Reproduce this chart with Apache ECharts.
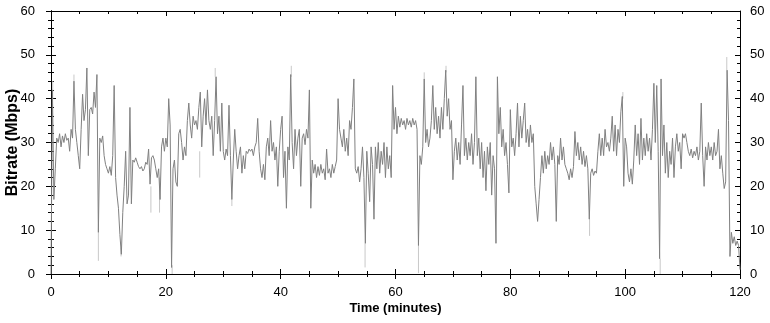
<!DOCTYPE html>
<html>
<head>
<meta charset="utf-8">
<title>Bitrate</title>
<script src="https://cdn.jsdelivr.net/npm/echarts@6/dist/echarts.min.js"></script>
<style>
  html, body { margin: 0; padding: 0; background: #fff; }
  #chart { width: 770px; height: 323px; }
</style>
</head>
<body>
<div id="chart"></div>
<script>
// bitrate (Mbps) every quarter minute, 0 .. 120 min (one row = 5 minutes)
const bitrate = [
  0, 42, 17, 24, 31, 30, 32, 29, 31.5, 30, 32, 30.5, 31, 28, 33, 31, 44, 33, 30, 27,
  24, 33, 41, 35, 37.5, 47, 27, 37.5, 38, 36.5, 41.5, 38, 45.5, 9.5, 31, 30, 31.5, 27, 25, 24,
  23, 24.5, 22.5, 27, 43, 22, 18, 15, 9, 4.5, 14, 20, 28, 16, 18, 38, 16, 26, 25.5, 26.5,
  25.5, 24.5, 24, 24.5, 23.5, 24, 25.5, 25, 28.5, 20.5, 26.5, 27, 26, 24, 22, 24, 17, 29, 31, 28,
  31, 29, 40, 34, 1.5, 24, 26, 21, 20, 32, 33, 30, 26, 29, 27, 35, 39, 34, 31, 36,
  34, 35, 33, 38, 41.5, 29, 36, 40, 34, 42, 35, 33, 36, 27, 35, 45, 32, 36, 28, 39,
  28, 26, 28.5, 27, 38.5, 27, 17, 26, 33, 28, 24, 27, 29, 23, 27, 24, 28, 27.5, 28.5, 28,
  28.5, 27, 29, 30, 35.5, 28, 24, 22, 25, 21.5, 29, 31, 27, 35, 28, 30, 26, 29, 20, 28,
  33, 36, 22, 28, 15, 29, 26, 45.5, 30, 24, 33, 27, 31, 33, 20, 31, 32, 29.5, 33, 31,
  42, 15, 26, 23, 25, 22, 24.5, 22.5, 25, 23, 24, 21.5, 28.5, 23, 24, 22, 25, 23, 24.5, 26,
  40, 33, 31, 29, 33, 28, 31, 27, 35, 33, 38, 44.5, 24, 23, 24.5, 21, 24, 29, 22, 7,
  28, 23, 16.5, 29, 25, 12.5, 29, 24, 30, 23, 28, 25, 30, 22, 29, 24, 27, 22, 43, 33,
  38, 32, 36, 33.5, 35.5, 34, 35, 33, 35.5, 34, 35, 33.5, 35.5, 34, 35, 33, 6.5, 27, 25, 29,
  44.5, 30, 33, 29, 31, 35, 43, 33, 38, 32, 36, 31, 38, 33, 40, 46.5, 36, 40, 33, 35,
  21.5, 28, 31, 26, 30, 25, 34, 43, 27, 31, 26, 30, 27, 32, 25, 30, 45, 27, 31, 24,
  30, 22, 28, 19, 29, 25, 30, 18, 27, 24, 7, 45, 32, 38, 29, 33, 27, 30, 25, 18.5,
  37.5, 29, 31, 27, 32, 39, 29, 36, 31, 35, 39, 30, 33, 29, 34, 30, 32, 20, 16, 12,
  17, 22, 27, 23, 28, 24, 27, 25, 30, 26, 29, 25, 12, 27, 25, 31, 26, 29, 25, 24,
  23, 21.5, 24, 22, 24.5, 32.5, 27, 30, 26, 29, 25, 28, 24.5, 27, 24, 12.5, 23, 24, 22.5, 23.5,
  23, 28, 32, 27, 31, 27, 33, 29, 30, 28, 31, 36, 28, 34, 27, 33, 30, 37, 40.5, 20,
  31, 29, 23, 21, 24, 20.5, 26, 34, 27, 32, 25, 35.5, 26, 31, 27, 32, 28, 31, 26, 33,
  43.5, 30, 43, 28, 3.5, 44.5, 27, 34, 23, 30, 22, 28, 25, 31, 22, 29, 32, 28, 30, 24,
  32, 31, 32, 30, 28, 27, 28.5, 26.5, 28, 27, 29, 26, 28, 39, 27, 20, 29, 26, 30, 27,
  29, 26, 30, 27, 28, 33, 24, 27, 23, 19.5, 21, 46.5, 35, 4, 9.5, 7, 8.5, 6.5, 7.5, 6.5,
  1
];
const stepMinutes = 0.25;

// light grey peaks of the raw trace: [minute, low, high]
const peaks = [
  [0.3, 40, 44], [4.0, 44, 45.5], [8.25, 3, 9.5], [12.2, 4, 6],
  [17.4, 14, 20], [18.9, 14, 22], [21.1, 0, 2], [25.9, 22, 28],
  [28.6, 45, 47], [31.5, 15.5, 17], [41.85, 45, 47.5], [54.7, 1.5, 7],
  [64.0, 0.2, 6.5], [65.0, 44.5, 46], [68.8, 46, 47.5], [93.8, 8.7, 12.5],
  [99.6, 40, 41.5], [106.1, 0, 3.5], [117.7, 46.5, 49.5]
];

const xTicks = [0, 20, 40, 60, 80, 100, 120];
const yTicks = [0, 10, 20, 30, 40, 50, 60];

const chart = echarts.init(document.getElementById("chart"), null, { renderer: "canvas" });

const font = "'Liberation Sans', Arial, sans-serif";
const black = "#000";

function xAxisDef(position, inside, labels) {
  return {
    type: "value",
    position: position,
    min: xTicks[0],
    max: xTicks[xTicks.length - 1],
    interval: 20,
    axisLine: { show: true, onZero: false, lineStyle: { color: black, width: 1 } },
    axisTick: { show: true, inside: inside, length: 5, lineStyle: { color: black } },
    minorTick: { show: true, splitNumber: 4, length: 3, lineStyle: { color: black } },
    splitLine: { show: false },
    axisLabel: { show: labels, color: black, fontFamily: font, fontSize: 13, margin: 12 },
  };
}

function yAxisDef(position, inside, labels, margin) {
  return {
    type: "value",
    position: position,
    min: yTicks[0],
    max: yTicks[yTicks.length - 1],
    interval: 10,
    axisLine: { show: true, lineStyle: { color: black, width: 1 } },
    axisTick: { show: true, inside: inside, length: 5, lineStyle: { color: black } },
    minorTick: { show: true, splitNumber: 5, length: 3, lineStyle: { color: black } },
    splitLine: { show: false },
    axisLabel: { show: labels, color: black, fontFamily: font, fontSize: 13, margin: margin },
  };
}

const bottomAxis = xAxisDef("bottom", false, true);
bottomAxis.name = "Time (minutes)";
bottomAxis.nameLocation = "middle";
bottomAxis.nameGap = 28;
bottomAxis.nameMoveOverlap = false;
bottomAxis.nameTextStyle = { color: black, fontFamily: font, fontSize: 13, fontWeight: "bold" };

const leftAxis = yAxisDef("left", false, true, 16);
leftAxis.name = "Bitrate (Mbps)";
leftAxis.nameLocation = "middle";
leftAxis.nameGap = 30;
leftAxis.nameMoveOverlap = false;
leftAxis.nameTextStyle = { color: black, fontFamily: font, fontSize: 16, fontWeight: "bold" };

const option = {
  animation: false,
  backgroundColor: "#fff",
  grid: { left: 51, right: 30, top: 11, bottom: 49, containLabel: false, outerBoundsMode: "none" },
  xAxis: [bottomAxis, xAxisDef("bottom", true, false), xAxisDef("top", true, false)],
  yAxis: [
    leftAxis,
    yAxisDef("right", false, true, 10),
    yAxisDef("left", true, false, 8),
    yAxisDef("right", true, false, 8),
  ],
  series: [
    {
      name: "peaks",
      type: "custom",
      xAxisIndex: 0,
      yAxisIndex: 0,
      data: peaks,
      encode: { x: 0, y: [1, 2] },
      renderItem: (params, api) => {
        const a = api.coord([api.value(0), api.value(1)]);
        const b = api.coord([api.value(0), api.value(2)]);
        return {
          type: "line",
          shape: { x1: a[0], y1: a[1], x2: b[0], y2: b[1] },
          style: { stroke: "#c8c8c8", lineWidth: 1 },
        };
      },
      z: 1,
    },
    {
      name: "Bitrate",
      type: "line",
      xAxisIndex: 0,
      yAxisIndex: 0,
      data: bitrate.map((v, i) => [i * stepMinutes, v]),
      showSymbol: false,
      symbol: "none",
      sampling: null,
      lineStyle: { color: "#808080", width: 1 },
      z: 2,
    },
  ],
};

chart.setOption(option);
</script>
</body>
</html>
